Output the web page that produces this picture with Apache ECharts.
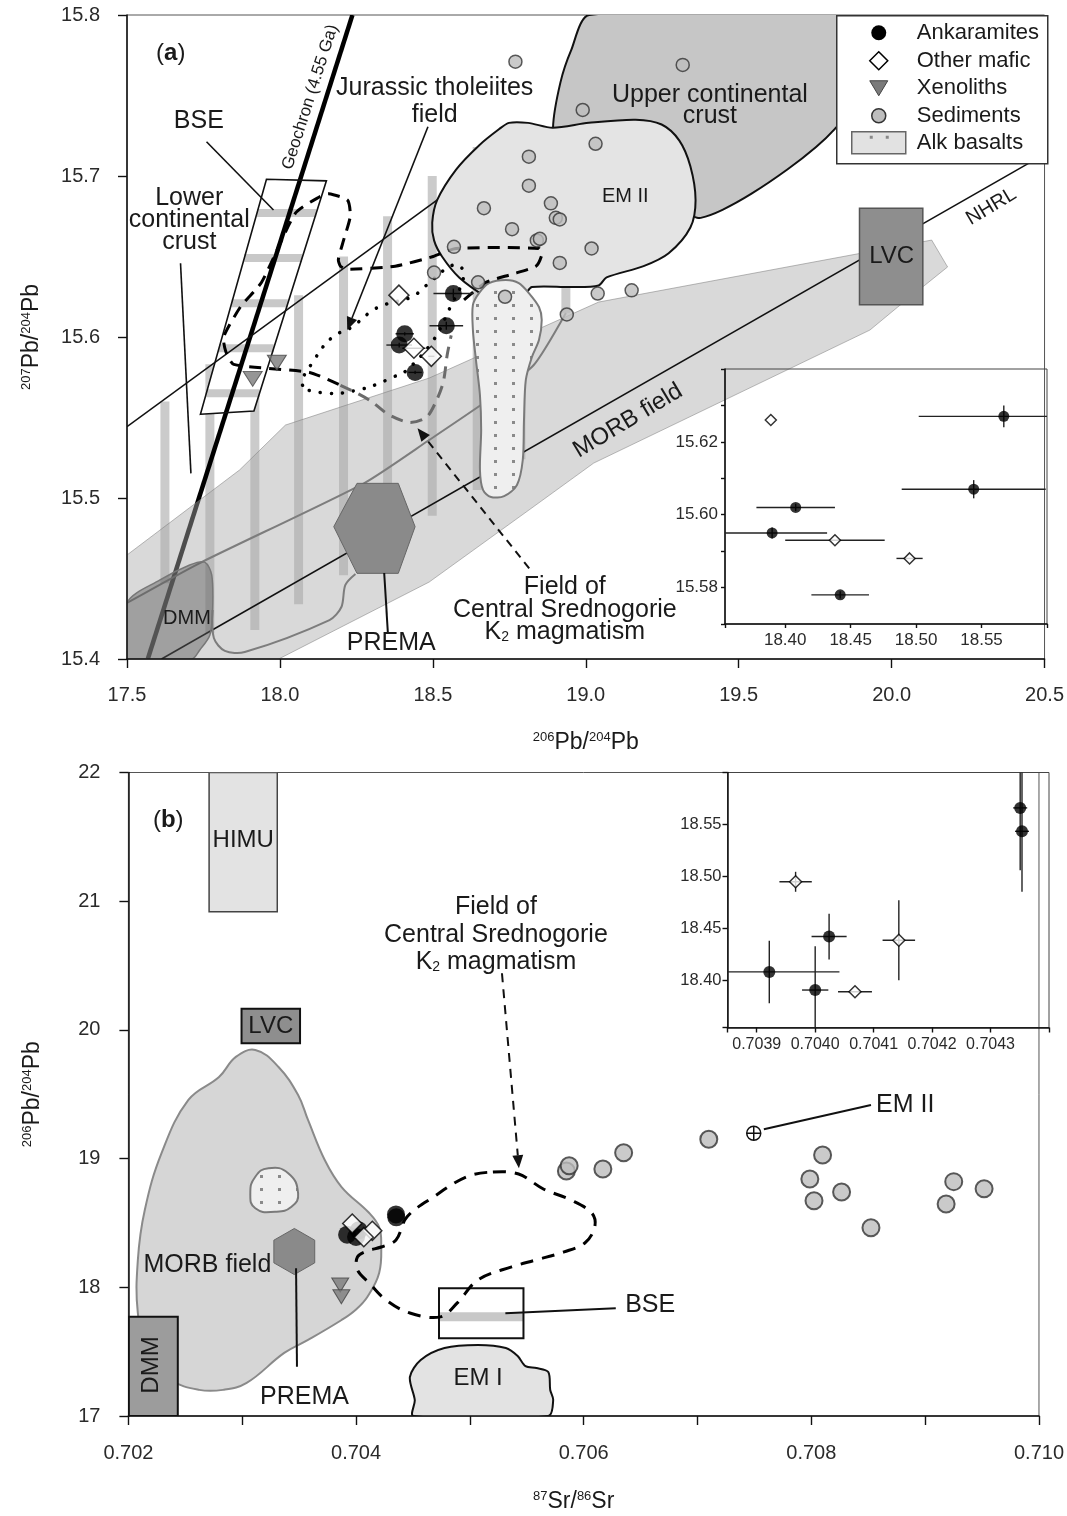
<!DOCTYPE html>
<html>
<head>
<meta charset="utf-8">
<script src="https://cdn.jsdelivr.net/npm/echarts@6/dist/echarts.min.js"></script>
<style>
  html, body { margin: 0; background: #fff; }
  #chart { width: 1067px; height: 1516px; }
</style>
</head>
<body>
<div id="chart"></div>
<script>
// ---------- panel (a): 206Pb/204Pb vs 207Pb/204Pb ----------
const ankA = [[18.567, 15.627], [18.544, 15.607], [18.408, 15.602], [18.390, 15.595], [18.442, 15.578]];
const ankAErr = [[0.065, 0.003], [0.055, 0.0025], [0.030, 0.001], [0.042, 0.0015], [0.022, 0.001]];
const maficA = [[18.389, 15.626], [18.438, 15.593], [18.495, 15.588]];
const maficAErr = [[0, 0], [0.038, 0], [0.010, 0]];
const xenoA = [[17.911, 15.574], [17.990, 15.584]];
const sedA = [[19.032, 15.720], [18.814, 15.712], [18.814, 15.694], [18.886, 15.683], [18.902, 15.674],
  [18.915, 15.673], [18.667, 15.680], [18.759, 15.667], [18.840, 15.660], [18.850, 15.661],
  [19.019, 15.655], [18.915, 15.646], [18.569, 15.656], [18.504, 15.640], [18.648, 15.634],
  [18.736, 15.625], [18.938, 15.614], [19.039, 15.627], [19.150, 15.629], [18.770, 15.771],
  [19.317, 15.769], [18.990, 15.741]];

// lower continental crust stripes: [206Pb, bottom 207Pb, top 207Pb]
const lccStripes = [[17.624, 15.447, 15.560], [17.771, 15.416, 15.583], [17.918, 15.418, 15.607],
  [18.061, 15.434, 15.626], [18.208, 15.452, 15.650], [18.352, 15.471, 15.675], [18.498, 15.489, 15.700],
  [18.645, 15.505, 15.718], [18.788, 15.524, 15.728], [18.935, 15.615, 15.631]];
const bseA = [[17.740, 15.552], [17.915, 15.554], [18.152, 15.697], [17.956, 15.698]];
const bseBarsA = [15.677, 15.649, 15.621, 15.593, 15.565];
const geochron = [[17.568, 15.4], [18.237, 15.8]];
const nhrl = [[17.613, 15.4], [20.449, 15.708]];
const lineL1 = [[17.5, 15.5443], [18.83, 15.729]];
const morbA = [[17.5, 15.4646], [17.868, 15.5174], [18.018, 15.5453], [18.488, 15.5745], [19.042, 15.6217],
  [20.131, 15.6602], [20.183, 15.6435], [20.020, 15.6186], [19.929, 15.6043], [19.026, 15.5217],
  [18.814, 15.4925], [18.488, 15.4478], [17.996, 15.4], [17.5, 15.4]];
const dmmA = [[17.5, 15.4], [17.5, 15.4348], [17.608, 15.4491], [17.705, 15.4584], [17.754, 15.4602],
  [17.777, 15.4522], [17.780, 15.4304], [17.771, 15.4149], [17.738, 15.4056], [17.712, 15.4]];
const outUpperA = [[17.5, 15.4348], [17.738, 15.4596], [18.276, 15.5093], [18.488, 15.536],
  [18.690, 15.5621], [18.830, 15.5826], [18.935, 15.6149]];
const outLowerA = [[17.780, 15.4304], [17.784, 15.413], [17.820, 15.405], [17.885, 15.4043],
  [18.162, 15.4242], [18.201, 15.4323], [18.214, 15.446], [18.247, 15.4528]];
const premaA = [[18.252, 15.5091], [18.387, 15.5091], [18.442, 15.4822], [18.387, 15.4532], [18.252, 15.4532], [18.176, 15.4822]];
const alkA = [[18.651, 15.6273], [18.684, 15.6335], [18.739, 15.6354], [18.781, 15.6335], [18.814, 15.6273],
  [18.847, 15.6186], [18.856, 15.6106], [18.847, 15.5981], [18.824, 15.5876], [18.804, 15.5733],
  [18.798, 15.5484], [18.794, 15.5236], [18.775, 15.5081], [18.733, 15.5012], [18.690, 15.5006],
  [18.664, 15.505], [18.654, 15.5174], [18.658, 15.5422], [18.654, 15.564], [18.641, 15.5857],
  [18.631, 15.6043], [18.631, 15.6199]];
const uccA = [[19.011, 15.8], [18.952, 15.778], [18.917, 15.758], [18.893, 15.730], [18.912, 15.710],
  [19.336, 15.685], [19.353, 15.675], [19.376, 15.674], [19.447, 15.679], [19.542, 15.689],
  [19.659, 15.704], [19.753, 15.718], [19.813, 15.729], [19.890, 15.747], [19.955, 15.8]];
const em2A = [[18.504, 15.660], [18.498, 15.671], [18.514, 15.685], [18.576, 15.704], [18.651, 15.719],
  [18.716, 15.729], [18.749, 15.733], [18.811, 15.733], [18.892, 15.730], [19.010, 15.733],
  [19.163, 15.735], [19.248, 15.732], [19.306, 15.722], [19.342, 15.706], [19.359, 15.685],
  [19.342, 15.668], [19.271, 15.652], [19.189, 15.644], [19.068, 15.637], [19.042, 15.632],
  [18.954, 15.631], [18.824, 15.631], [18.804, 15.627], [18.772, 15.622], [18.726, 15.621],
  [18.674, 15.625], [18.586, 15.637], [18.530, 15.650]];
const lvcA = [[19.895, 15.620], [20.102, 15.620], [20.102, 15.680], [19.895, 15.680]];
const jurassicA = [[18.074, 15.570], [18.113, 15.586], [18.172, 15.600], [18.234, 15.606], [18.299, 15.616],
  [18.341, 15.620], [18.433, 15.625], [18.472, 15.631], [18.570, 15.645], [18.602, 15.639],
  [18.553, 15.617], [18.498, 15.597], [18.406, 15.578], [18.367, 15.575], [18.322, 15.571],
  [18.253, 15.567], [18.162, 15.565]];
const dashA = [[18.602, 15.623], [18.674, 15.634], [18.759, 15.639], [18.837, 15.644], [18.856, 15.651],
  [18.847, 15.655], [18.576, 15.655], [18.501, 15.650], [18.377, 15.644], [18.221, 15.642],
  [18.198, 15.644], [18.191, 15.648], [18.208, 15.660], [18.230, 15.675], [18.221, 15.685],
  [18.159, 15.689], [18.129, 15.687], [18.051, 15.677], [17.940, 15.634], [17.872, 15.619],
  [17.816, 15.600], [17.823, 15.591], [17.849, 15.583], [18.097, 15.578], [18.198, 15.570]];
const k2FieldA = [[18.198, 15.570], [18.253, 15.565], [18.299, 15.560], [18.354, 15.552], [18.423, 15.547],
  [18.478, 15.550], [18.508, 15.559], [18.534, 15.572], [18.547, 15.589], [18.560, 15.601]];
const leaderBseA = [[17.760, 15.7213], [17.979, 15.6789]];
const leaderLccA = [[17.675, 15.6458], [17.709, 15.5153]];
const leaderPremaA = [[18.341, 15.4534], [18.353, 15.4161]];
const arrowJurA = [[18.484, 15.7306], [18.220, 15.6043]];
const arrowK2A = [[18.815, 15.4563], [18.450, 15.5433]];

const labelTextA = ['({b|a})', 'Geochron (4.55 Ga)', 'Jurassic tholeiites', 'field', 'BSE', 'Lower', 'continental',
  'crust', 'Upper continental', 'crust', 'EM II', 'LVC', 'NHRL', 'MORB field', 'DMM', 'PREMA',
  'Field of', 'Central Srednogorie', '{n|K}{s|2}{n| magmatism}'];
const labelPosA = [[17.643, 15.776], [18.099, 15.749], [18.506, 15.7545], [18.506, 15.738], [17.735, 15.734],
  [17.7035, 15.686], [17.7035, 15.6727], [17.7035, 15.659], [19.406, 15.750], [19.406, 15.737],
  [19.129, 15.687], [20.0, 15.650], [20.326, 15.681], [19.138, 15.548], [17.696, 15.425],
  [18.364, 15.410], [18.9315, 15.4447], [18.9315, 15.4304], [18.9315, 15.4168]];

// ---------- panel (b): 87Sr/86Sr vs 206Pb/204Pb ----------
const ankB = [[0.7043507, 18.566], [0.7043538, 18.5435], [0.7039215, 18.4084], [0.7040000, 18.391], [0.7040238, 18.4424]];
const ankBErr = [[0.000012, 0.060], [0.000012, 0.058], [0.00012, 0.030], [0.0000225, 0.042], [0.00003, 0.022]];
const maficB = [[0.7039665, 18.495], [0.7041431, 18.4388], [0.7040681, 18.3894]];
const maficBErr = [[0.0000277, 0.0096], [0.0000278, 0.0384], [0.000029, 0]];
const xenoB = [[0.703861, 18.018], [0.703871, 17.927]];
const sedB = [[0.7070991, 19.150], [0.7063510, 19.046], [0.7061685, 18.919], [0.7058480, 18.904],
  [0.7058723, 18.945], [0.7080990, 19.028], [0.7079869, 18.841], [0.7082658, 18.740],
  [0.7080235, 18.673], [0.7085239, 18.463], [0.7092511, 18.821], [0.7091842, 18.647], [0.7095178, 18.766]];
const em2B = [[0.707494, 19.197]];
const himuB = [[0.702709, 20.918], [0.703308, 20.918], [0.703308, 22.0], [0.702709, 22.0]];
const lvcB = [[0.702994, 19.896], [0.703508, 19.896], [0.703508, 20.164], [0.702994, 20.164]];
const dmmB = [[0.702, 17.0], [0.702434, 17.0], [0.702434, 17.771], [0.702, 17.771]];
const bseB = [[0.704729, 17.604], [0.705471, 17.604], [0.705471, 17.992], [0.704729, 17.992]];
const bseBarB = [[0.704729, 17.771], [0.705471, 17.771]];
const morbB = [[0.703115, 19.844], [0.703317, 19.714], [0.703491, 19.494], [0.703578, 19.300], [0.703725, 18.989],
  [0.703873, 18.779], [0.704116, 18.577], [0.704203, 18.468], [0.704221, 18.344], [0.704203, 18.111],
  [0.704099, 17.925], [0.703995, 17.824], [0.703873, 17.746], [0.703578, 17.591], [0.703369, 17.490],
  [0.703039, 17.257], [0.702831, 17.203], [0.702622, 17.203], [0.702379, 17.280], [0.702170, 17.490],
  [0.702083, 17.800], [0.702083, 18.212], [0.702144, 18.601], [0.702292, 19.044], [0.702527, 19.456],
  [0.702796, 19.634], [0.702944, 19.790]];
const alkB = [[0.703230, 18.925], [0.703404, 18.886], [0.703491, 18.730], [0.703433, 18.626],
  [0.703288, 18.587], [0.703115, 18.614], [0.703071, 18.730], [0.703115, 18.859]];
const premaB = [[0.703458, 18.457], [0.703637, 18.366], [0.703637, 18.190], [0.703458, 18.099], [0.703278, 18.190], [0.703278, 18.366]];
const em1B = [[0.704505, 17.0], [0.704516, 17.124], [0.704473, 17.303], [0.704568, 17.435], [0.704777, 17.528],
  [0.705072, 17.552], [0.705316, 17.528], [0.705420, 17.466], [0.705489, 17.388], [0.705585, 17.373],
  [0.705689, 17.342], [0.705706, 17.202], [0.705732, 17.124], [0.705689, 17.0]];
const k2FieldB = [[0.7052024, 18.896], [0.7054283, 18.880], [0.7056455, 18.764], [0.7058888, 18.678],
  [0.7060712, 18.577], [0.7060973, 18.469], [0.7060104, 18.344], [0.7058280, 18.275], [0.7055847, 18.213],
  [0.7053675, 18.159], [0.7050721, 18.058], [0.7048897, 17.879], [0.7047420, 17.770], [0.7044726, 17.800],
  [0.7042641, 17.901], [0.7041164, 18.033], [0.7040122, 18.134], [0.7040122, 18.235], [0.7040990, 18.282],
  [0.7042207, 18.313], [0.7043510, 18.368], [0.7044466, 18.547], [0.7046811, 18.702], [0.7049679, 18.857]];
const leaderPremaB = [[0.703473, 18.148], [0.703481, 17.383]];
const leaderBseB = [[0.705312, 17.798], [0.706282, 17.837]];
const leaderEm2B = [[0.707583, 19.228], [0.708524, 19.416]];
const arrowK2B = [[0.705282, 20.440], [0.705431, 18.925]];

const labelTextB = ['({b|b})', 'HIMU', 'LVC', 'MORB field', 'DMM', 'PREMA', 'EM I', 'BSE', 'EM II',
  'Field of', 'Central Srednogorie', '{n|K}{s|2}{n| magmatism}'];
const labelPosB = [[0.70235, 21.631], [0.703009, 21.4755], [0.703251, 20.03], [0.702694, 18.173],
  [0.702201, 17.396], [0.703547, 17.150], [0.705072, 17.293], [0.706584, 17.862], [0.708825, 19.416],
  [0.705229, 20.955], [0.705229, 20.738], [0.705229, 20.528]];

// ---------- tick labels ----------
const insetATicksX = [18.40, 18.45, 18.50, 18.55];
const insetATicksY = [15.58, 15.60, 15.62];
const panelBLabelsX = [0.702, 0.704, 0.706, 0.708, 0.710];
const insetBTicksX = [0.7039, 0.7040, 0.7041, 0.7042, 0.7043];
const insetBTicksY = [18.40, 18.45, 18.50, 18.55];

// ================= rendering =================
const FONT = "'Liberation Sans', Arial, Helvetica, sans-serif";
const INK = '#1a1a1a';

function dotPattern() {
  const c = document.createElement('canvas');
  c.width = 18; c.height = 13;
  const g = c.getContext('2d');
  g.fillStyle = '#efefef'; g.fillRect(0, 0, 18, 13);
  g.fillStyle = '#8a8a8a'; g.fillRect(8, 5, 3, 3);
  return { image: c, repeat: 'repeat' };
}
const DOTS = dotPattern();

function rich(s) {
  return {
    b: { fontWeight: 'bold', fontSize: s, fontFamily: FONT, fill: INK },
    n: { fontSize: s, fontFamily: FONT, fill: INK },
    s: { fontSize: Math.round(s * 0.55), fontFamily: FONT, fill: INK, verticalAlign: 'bottom' }
  };
}

// a polygon / polyline drawn from a list of data points
function shape(g, pts, style, o = {}) {
  return {
    type: 'custom', xAxisIndex: g, yAxisIndex: g, silent: true, clip: true, z: o.z || 2,
    data: pts,
    renderItem(params, api) {
      if (params.dataIndex !== 0) return null;
      return {
        type: o.open ? 'polyline' : 'polygon',
        shape: { points: pts.map(p => api.coord(p)), smooth: o.smooth || 0 },
        style: Object.assign({ fill: o.open ? null : '#ccc' }, style)
      };
    }
  };
}

function arrow(g, seg, o = {}) {
  return {
    type: 'custom', xAxisIndex: g, yAxisIndex: g, silent: true, z: 2,
    data: seg,
    renderItem(params, api) {
      if (params.dataIndex !== 0) return null;
      const a = api.coord(seg[0]), b = api.coord(seg[1]);
      const kids = [];
      let end = b;
      if (o.head) {
        const ang = Math.atan2(b[1] - a[1], b[0] - a[0]), L = o.head, W = L * 0.42;
        const bx = b[0] - L * Math.cos(ang), by = b[1] - L * Math.sin(ang);
        kids.push({ type: 'polygon', shape: { points: [b, [bx + W * Math.sin(ang), by - W * Math.cos(ang)], [bx - W * Math.sin(ang), by + W * Math.cos(ang)]] }, style: { fill: '#111' } });
        end = [bx, by];
      }
      kids.unshift({ type: 'line', shape: { x1: a[0], y1: a[1], x2: end[0], y2: end[1] },
        style: { stroke: '#111', lineWidth: o.w || 1.6, lineDash: o.dash || null } });
      return { type: 'group', children: kids };
    }
  };
}

function errBars(g, pts, errs, z) {
  return {
    type: 'custom', xAxisIndex: g, yAxisIndex: g, silent: true, z: z || 2,
    data: pts.map((p, i) => [p[0], p[1], errs[i][0], errs[i][1]]),
    renderItem(params, api) {
      const x = api.value(0), y = api.value(1), ex = api.value(2), ey = api.value(3);
      const cs = params.coordSys;
      const rect = { x: cs.x, y: cs.y, width: cs.width, height: cs.height };
      const kids = [];
      const add = (p, q) => {
        const c = echarts.graphic.clipPointsByRect([api.coord(p), api.coord(q)], rect);
        kids.push({ type: 'line', shape: { x1: c[0][0], y1: c[0][1], x2: c[1][0], y2: c[1][1] }, style: { stroke: '#222', lineWidth: 1.4 } });
      };
      if (ex > 0) add([x - ex, y], [x + ex, y]);
      if (ey > 0) add([x, y - ey], [x, y + ey]);
      return { type: 'group', children: kids };
    }
  };
}

function labels(g, texts, pos, sizes, rots) {
  return {
    type: 'custom', xAxisIndex: g, yAxisIndex: g, silent: true, z: 3,
    data: pos,
    renderItem(params, api) {
      const i = params.dataIndex, p = api.coord(pos[i]);
      return {
        type: 'text', x: p[0], y: p[1], rotation: (rots[i] || 0) * Math.PI / 180,
        style: { text: texts[i], fontSize: sizes[i], fontFamily: FONT, fill: INK, align: 'center', verticalAlign: 'middle', rich: rich(sizes[i]) }
      };
    }
  };
}

function scatter(g, data, symbol, size, itemStyle, z) {
  return { type: 'scatter', xAxisIndex: g, yAxisIndex: g, silent: true, z: z || 2, data, symbol, symbolSize: size, itemStyle };
}

const ANK = { color: '#000' };
const MAF = { color: '#fff', borderColor: '#000', borderWidth: 1.5 };
const XEN = { color: '#7a7a7a', borderColor: '#444', borderWidth: 1 };
const SED = { color: '#bdbdbd', borderColor: '#333', borderWidth: 1.5 };
const TRI = 'path://M0,0L20,0L10,16Z';

function axis(g, tick, label, extra) {
  return Object.assign({
    gridIndex: g, type: 'value', z: g % 2 ? 10 : 6,
    axisLine: { show: true, onZero: false, lineStyle: { color: '#111', width: 1.5 } },
    axisTick: { show: true, length: tick, lineStyle: { color: '#111', width: 1.4 } },
    splitLine: { show: false },
    axisLabel: Object.assign({ color: '#2a2a2a', fontFamily: FONT, hideOverlap: false }, label)
  }, extra);
}
const nameStyle = (pad) => ({
  fontSize: 23, fontFamily: FONT, color: INK, padding: pad || 0,
  rich: { sup: { fontSize: 13, fontFamily: FONT, color: INK, verticalAlign: 'top' } }
});

const labelSizeA = [24, 17, 25, 25, 25, 25, 25, 25, 25, 25, 20, 24, 20, 24, 20, 25, 25, 25, 25];
const labelRotA = [0, 72.3, 0, 0, 0, 0, 0, 0, 0, 0, 0, 0, 31, 31, 0, 0, 0, 0, 0];
const labelSizeB = [24, 24, 24, 25, 24, 25, 24, 25, 25, 25, 25, 25];
const labelRotB = [0, 0, 0, 0, 90, 0, 0, 0, 0, 0, 0, 0];

const series = [
  // ----- panel a -----
  {
    type: 'custom', xAxisIndex: 0, yAxisIndex: 0, silent: true, data: lccStripes,
    renderItem(params, api) {
      const t = api.coord([api.value(0), api.value(2)]), b = api.coord([api.value(0), api.value(1)]);
      return { type: 'rect', shape: { x: t[0] - 4.5, y: t[1], width: 9, height: b[1] - t[1] }, style: { fill: '#cbcbcb' } };
    }
  },
  shape(0, bseA, { fill: '#fff', stroke: null }),
  {
    type: 'custom', xAxisIndex: 0, yAxisIndex: 0, silent: true, data: bseBarsA.map(y => [bseA[0][0], y]),
    renderItem(params, api) {
      const y = api.value(1);
      const [bl, br, tr, tl] = bseA;
      const xl = bl[0] + (y - bl[1]) / (tl[1] - bl[1]) * (tl[0] - bl[0]);
      const xr = br[0] + (y - br[1]) / (tr[1] - br[1]) * (tr[0] - br[0]);
      const a = api.coord([xl, y]), b = api.coord([xr, y]);
      return { type: 'line', shape: { x1: a[0], y1: a[1], x2: b[0], y2: b[1] }, style: { stroke: '#c8c8c8', lineWidth: 8 } };
    }
  },
  shape(0, geochron, { stroke: '#000', lineWidth: 4.5 }, { open: true }),
  shape(0, morbA, { fill: 'rgba(170,170,170,0.45)', stroke: 'rgba(120,120,120,0.5)', lineWidth: 1 }),
  shape(0, nhrl, { stroke: '#111', lineWidth: 1.6 }, { open: true }),
  shape(0, lineL1, { stroke: '#111', lineWidth: 1.6 }, { open: true }),
  shape(0, uccA, { fill: '#c6c6c6', stroke: '#111', lineWidth: 2 }, { smooth: 0.25 }),
  shape(0, em2A, { fill: '#e4e4e4', stroke: '#111', lineWidth: 2 }, { smooth: 0.3 }),
  shape(0, outUpperA, { stroke: '#7d7d7d', lineWidth: 2 }, { open: true, smooth: 0.2 }),
  shape(0, outLowerA, { stroke: '#7d7d7d', lineWidth: 2 }, { open: true, smooth: 0.3 }),
  shape(0, dmmA, { fill: 'rgba(90,90,90,0.45)', stroke: '#777', lineWidth: 1.5 }, { smooth: 0.3 }),
  shape(0, alkA, { fill: DOTS, stroke: '#7a7a7a', lineWidth: 2 }, { smooth: 0.3 }),
  shape(0, premaA, { fill: '#8a8a8a', stroke: '#666', lineWidth: 1 }),
  shape(0, lvcA, { fill: '#8e8e8e', stroke: '#555', lineWidth: 1.5 }),
  shape(0, bseA, { fill: null, stroke: '#111', lineWidth: 1.6 }),
  shape(0, jurassicA, { fill: null, stroke: '#000', lineWidth: 3.5, lineDash: [0.1, 11], lineCap: 'round' }, { smooth: 0.4 }),
  shape(0, dashA, { stroke: '#000', lineWidth: 3, lineDash: [12, 8] }, { open: true, smooth: 0.2 }),
  shape(0, k2FieldA, { stroke: '#6b6b6b', lineWidth: 3, lineDash: [12, 8] }, { open: true, smooth: 0.3 }),
  arrow(0, leaderBseA), arrow(0, leaderLccA), arrow(0, leaderPremaA, { w: 2 }),
  arrow(0, arrowJurA, { head: 13 }),
  arrow(0, arrowK2A, { head: 13, dash: [8, 6], w: 2 }),
  scatter(0, sedA, 'circle', 13, SED),
  errBars(0, ankA, ankAErr), errBars(0, maficA, maficAErr),
  scatter(0, xenoA, TRI, [19, 15], XEN),
  scatter(0, ankA, 'circle', 17, ANK),
  scatter(0, maficA, 'diamond', [20, 20], MAF),
  labels(0, labelTextA, labelPosA, labelSizeA, labelRotA),

  // ----- inset a -----
  errBars(1, ankA, ankAErr, 11), errBars(1, maficA, maficAErr, 11),
  scatter(1, ankA, 'circle', 11, ANK, 12),
  scatter(1, maficA, 'diamond', [11, 11], MAF, 12),

  // ----- panel b -----
  shape(2, morbB, { fill: '#d6d6d6', stroke: '#8a8a8a', lineWidth: 2 }, { smooth: 0.4 }),
  shape(2, alkB, { fill: DOTS, stroke: '#7a7a7a', lineWidth: 2 }, { smooth: 0.5 }),
  shape(2, premaB, { fill: '#8a8a8a', stroke: '#666', lineWidth: 1 }),
  shape(2, dmmB, { fill: '#9c9c9c', stroke: '#111', lineWidth: 2 }),
  shape(2, himuB, { fill: '#e3e3e3', stroke: '#444', lineWidth: 1.5 }),
  shape(2, lvcB, { fill: '#8e8e8e', stroke: '#111', lineWidth: 2 }),
  shape(2, em1B, { fill: '#e3e3e3', stroke: '#111', lineWidth: 2 }, { smooth: 0.3 }),
  shape(2, bseB, { fill: '#fff', stroke: null }),
  shape(2, bseBarB, { stroke: '#c8c8c8', lineWidth: 9 }, { open: true }),
  shape(2, bseB, { fill: null, stroke: '#111', lineWidth: 2 }),
  shape(2, k2FieldB, { fill: null, stroke: '#000', lineWidth: 3, lineDash: [13, 9] }, { smooth: 0.35 }),
  arrow(2, leaderPremaB, { w: 2 }), arrow(2, leaderBseB, { w: 2 }), arrow(2, leaderEm2B, { w: 2 }),
  arrow(2, arrowK2B, { head: 13, dash: [9, 7], w: 2 }),
  scatter(2, sedB, 'circle', 17, { color: '#bdbdbd', borderColor: '#333', borderWidth: 2 }),
  {
    type: 'custom', xAxisIndex: 2, yAxisIndex: 2, silent: true, data: em2B,
    renderItem(params, api) {
      const p = api.coord([api.value(0), api.value(1)]), r = 7;
      const st = { stroke: '#111', lineWidth: 1.5 };
      return { type: 'group', children: [
        { type: 'circle', shape: { cx: p[0], cy: p[1], r }, style: { fill: '#fff', stroke: '#111', lineWidth: 1.5 } },
        { type: 'line', shape: { x1: p[0] - r, y1: p[1], x2: p[0] + r, y2: p[1] }, style: st },
        { type: 'line', shape: { x1: p[0], y1: p[1] - r, x2: p[0], y2: p[1] + r }, style: st }
      ] };
    }
  },
  scatter(2, xenoB, TRI, [17, 14], XEN),
  scatter(2, ankB, 'circle', 18, ANK),
  scatter(2, maficB, 'diamond', [19, 19], MAF),
  labels(2, labelTextB, labelPosB, labelSizeB, labelRotB),

  // ----- inset b -----
  errBars(3, ankB, ankBErr, 11), errBars(3, maficB, maficBErr, 11),
  scatter(3, ankB, 'circle', 12, ANK, 12),
  scatter(3, maficB, 'diamond', [12, 12], MAF, 12)
];

const legendRows = ['Ankaramites', 'Other mafic', 'Xenoliths', 'Sediments', 'Alk basalts'];
const legendY = [17, 45, 72, 100, 127];
const LZ = 100;

const option = {
  animation: false,
  backgroundColor: '#fff',
  grid: [
    { left: 127, top: 15, width: 920, height: 644, show: true, borderColor: '#555', borderWidth: 1 },
    { left: 725, top: 369, width: 322, height: 255, show: true, borderColor: '#444', borderWidth: 1, z: 10 },
    { left: 128.4, top: 772.5, width: 920.6, height: 643.5, show: true, borderColor: '#555', borderWidth: 1 },
    { left: 727.5, top: 772.5, width: 321.5, height: 255, show: true, borderColor: '#444', borderWidth: 1, z: 10 }
  ],
  xAxis: [
    axis(0, 9, { fontSize: 20, margin: 26, formatter: v => v.toFixed(1) }, { min: 17.5, max: 20.5, interval: 0.5,
      name: '{sup|206}Pb/{sup|204}Pb', nameLocation: 'middle', nameGap: 72, nameTextStyle: nameStyle() }),
    axis(1, 4, { fontSize: 17, margin: 8, customValues: insetATicksX, formatter: v => v.toFixed(2) }, { min: 18.354, max: 18.60 }),
    axis(2, 9, { fontSize: 20, margin: 27, customValues: panelBLabelsX, formatter: v => v.toFixed(3) }, { min: 0.702, max: 0.710, interval: 0.001,
      name: '{sup|87}Sr/{sup|86}Sr', nameLocation: 'middle', nameGap: 74, nameTextStyle: nameStyle([0, 20, 0, 0]) }),
    axis(3, 5, { fontSize: 16, margin: 9, customValues: insetBTicksX, formatter: v => v.toFixed(4) }, { min: 0.70385, max: 0.7044 })
  ],
  yAxis: [
    axis(0, 9, { fontSize: 20, margin: 27, formatter: v => v.toFixed(1) }, { min: 15.4, max: 15.8, interval: 0.1,
      name: '{sup|207}Pb/{sup|204}Pb', nameLocation: 'middle', nameGap: 84, nameTextStyle: nameStyle() }),
    axis(1, 4, { fontSize: 17, margin: 7, customValues: insetATicksY, formatter: v => v.toFixed(2) }, { min: 15.57, max: 15.64 }),
    axis(2, 9, { fontSize: 20, margin: 28 }, { min: 17, max: 22, interval: 1,
      name: '{sup|206}Pb/{sup|204}Pb', nameLocation: 'middle', nameGap: 84, nameTextStyle: nameStyle() }),
    axis(3, 5, { fontSize: 16.5, margin: 6, customValues: insetBTicksY, formatter: v => v.toFixed(2) }, { min: 18.355, max: 18.60 })
  ],
  graphic: [{
    type: 'group', left: 836, top: 15, z: LZ,
    children: [
      { type: 'rect', z: LZ, shape: { x: 0, y: 0, width: 211, height: 148 }, style: { fill: '#fff', stroke: '#333', lineWidth: 1.5 } },
      { type: 'circle', z: LZ + 1, shape: { cx: 42, cy: legendY[0], r: 7.5 }, style: { fill: '#000' } },
      { type: 'polygon', z: LZ + 1, shape: { points: [[42, legendY[1] - 9], [51, legendY[1]], [42, legendY[1] + 9], [33, legendY[1]]] }, style: { fill: '#fff', stroke: '#000', lineWidth: 1.5 } },
      { type: 'polygon', z: LZ + 1, shape: { points: [[33, legendY[2] - 7], [51, legendY[2] - 7], [42, legendY[2] + 8]] }, style: { fill: '#7a7a7a', stroke: '#444', lineWidth: 1 } },
      { type: 'circle', z: LZ + 1, shape: { cx: 42, cy: legendY[3], r: 7 }, style: { fill: '#bdbdbd', stroke: '#333', lineWidth: 1.5 } },
      { type: 'rect', z: LZ + 1, shape: { x: 15, y: legendY[4] - 11, width: 54, height: 22 }, style: { fill: '#e2e2e2', stroke: '#666', lineWidth: 1.5 } },
      { type: 'rect', z: LZ + 2, shape: { x: 33, y: legendY[4] - 7, width: 3, height: 3 }, style: { fill: '#888' } },
      { type: 'rect', z: LZ + 2, shape: { x: 49, y: legendY[4] - 7, width: 3, height: 3 }, style: { fill: '#888' } }
    ].concat(legendRows.map((t, i) => ({
      type: 'text', z: LZ + 1, x: 80, y: legendY[i],
      style: { text: t, fontSize: 22, fontFamily: FONT, fill: INK, align: 'left', verticalAlign: 'middle' }
    })))
  }],
  series
};

const chart = echarts.init(document.getElementById('chart'));
chart.setOption(option);
</script>
</body>
</html>
